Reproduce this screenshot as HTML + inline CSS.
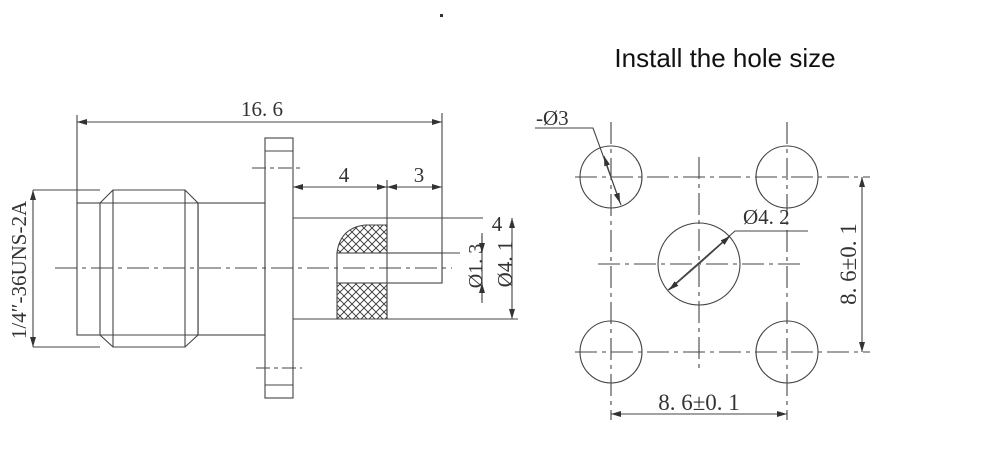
<!DOCTYPE html>
<html><head><style>
html,body{margin:0;padding:0;background:#fff;}
svg{display:block;}
text{font-family:"Liberation Serif",serif;fill:#333;}
</style></head><body>
<svg width="1000" height="449" viewBox="0 0 1000 449" xmlns="http://www.w3.org/2000/svg">
<defs>
<marker id="a" viewBox="0 0 10 6" refX="10" refY="3" markerWidth="10" markerHeight="6" orient="auto-start-reverse" markerUnits="userSpaceOnUse"><path d="M0,0L10,3L0,6z" fill="#333"/></marker>
<pattern id="h" width="8" height="8" patternUnits="userSpaceOnUse"><path d="M0,0L8,8M8,0L0,8" stroke="#333" stroke-width="0.9"/></pattern>
</defs>
<rect x="440" y="14" width="3" height="3" fill="#333"/>
<text x="725" y="67" text-anchor="middle" style="font-family:'Liberation Sans',sans-serif;font-size:26px;fill:#111">Install the hole size</text>
<g stroke="#444" stroke-width="1.1" fill="none">
<line x1="77" y1="115" x2="77" y2="203"/>
<line x1="442" y1="113" x2="442" y2="283"/>
<line x1="77" y1="122" x2="442" y2="122" marker-start="url(#a)" marker-end="url(#a)"/>
<rect x="77" y="203" width="121" height="132"/>
<polygon points="100,203 113,190 185,190 198,203 198,335 185,347 113,347 100,335" fill="#fff"/>
<line x1="113" y1="190" x2="113" y2="347"/>
<line x1="185" y1="190" x2="185" y2="347"/>
<line x1="100" y1="203" x2="198" y2="203"/>
<line x1="100" y1="335" x2="198" y2="335"/>
<rect x="198" y="203" width="67" height="132"/>
<rect x="265" y="138" width="28" height="260" fill="#fff"/>
<line x1="265" y1="151" x2="293" y2="151"/>
<line x1="265" y1="385" x2="293" y2="385"/>
<line x1="252" y1="168" x2="304" y2="168" stroke-dasharray="14,4,4,4"/>
<line x1="256" y1="368" x2="302" y2="368" stroke-dasharray="14,4,4,4"/>
<line x1="293" y1="218" x2="483" y2="218"/>
<line x1="293" y1="319" x2="518" y2="319"/>
<path d="M387,225 L365,225 Q340,228 337,253 L337,319 L387,319 Z" fill="url(#h)"/>
<rect x="337" y="253" width="105" height="30" fill="#fff"/>
<line x1="337" y1="253" x2="460" y2="253"/>
<line x1="337" y1="283" x2="442" y2="283"/>
<line x1="387" y1="180" x2="387" y2="319"/>
<line x1="293" y1="187" x2="387" y2="187" marker-start="url(#a)" marker-end="url(#a)"/>
<line x1="387" y1="187" x2="442" y2="187" marker-start="url(#a)" marker-end="url(#a)"/>
<line x1="55" y1="268" x2="452" y2="268" stroke-dasharray="22,5,4,5"/>
<line x1="482" y1="233" x2="482" y2="303"/>
<line x1="482" y1="236" x2="482" y2="253" marker-end="url(#a)"/>
<line x1="482" y1="300" x2="482" y2="283" marker-end="url(#a)"/>
<line x1="512" y1="218" x2="512" y2="319" marker-start="url(#a)" marker-end="url(#a)"/>
<line x1="33" y1="190" x2="100" y2="190"/>
<line x1="33" y1="347" x2="100" y2="347"/>
<line x1="33" y1="190" x2="33" y2="347" marker-start="url(#a)" marker-end="url(#a)"/>
<g stroke-dasharray="22,5,4,5">
<line x1="575" y1="177" x2="870" y2="177"/>
<line x1="575" y1="352" x2="870" y2="352"/>
<line x1="598" y1="264" x2="802" y2="264"/>
<line x1="611" y1="122" x2="611" y2="420"/>
<line x1="787" y1="122" x2="787" y2="420"/>
<line x1="699" y1="157" x2="699" y2="373"/>
</g>
<circle cx="611" cy="177" r="31"/>
<circle cx="787" cy="177" r="31"/>
<circle cx="611" cy="352" r="31"/>
<circle cx="787" cy="352" r="31"/>
<circle cx="699" cy="264" r="41"/>
<polyline points="535,128 593,128 621,205"/>
<line x1="604" y1="156" x2="611" y2="177" marker-start="url(#a)"/>
<line x1="612" y1="180" x2="620" y2="203" marker-end="url(#a)"/>
<polyline points="808,231 735,231 668,290"/>
<line x1="699" y1="264" x2="730" y2="236" marker-end="url(#a)"/>
<line x1="699" y1="264" x2="669" y2="290" marker-end="url(#a)"/>
<line x1="611" y1="414" x2="787" y2="414" marker-start="url(#a)" marker-end="url(#a)"/>
<line x1="862" y1="177" x2="862" y2="352" marker-start="url(#a)" marker-end="url(#a)"/>
</g>
<g style="font-size:21px">
<text x="262" y="116" text-anchor="middle">16. 6</text>
<text x="344" y="182" text-anchor="middle">4</text>
<text x="419" y="182" text-anchor="middle">3</text>
<text x="497" y="231" text-anchor="middle">4</text>
<text transform="translate(482,266) rotate(-90)" text-anchor="middle" style="font-size:20px">Ø1. 3</text>
<text transform="translate(512,264) rotate(-90)" text-anchor="middle">Ø4. 1</text>
<text transform="translate(26,270) rotate(-90)" text-anchor="middle">1/4″-36UNS-2A</text>
<text x="536" y="125">-Ø3</text>
<text x="743" y="224">Ø4. 2</text>
<text x="699" y="410" text-anchor="middle" style="font-size:23px">8. 6±0. 1</text>
<text transform="translate(856,264) rotate(-90)" text-anchor="middle" style="font-size:23px">8. 6±0. 1</text>
</g>
</svg>
</body></html>
